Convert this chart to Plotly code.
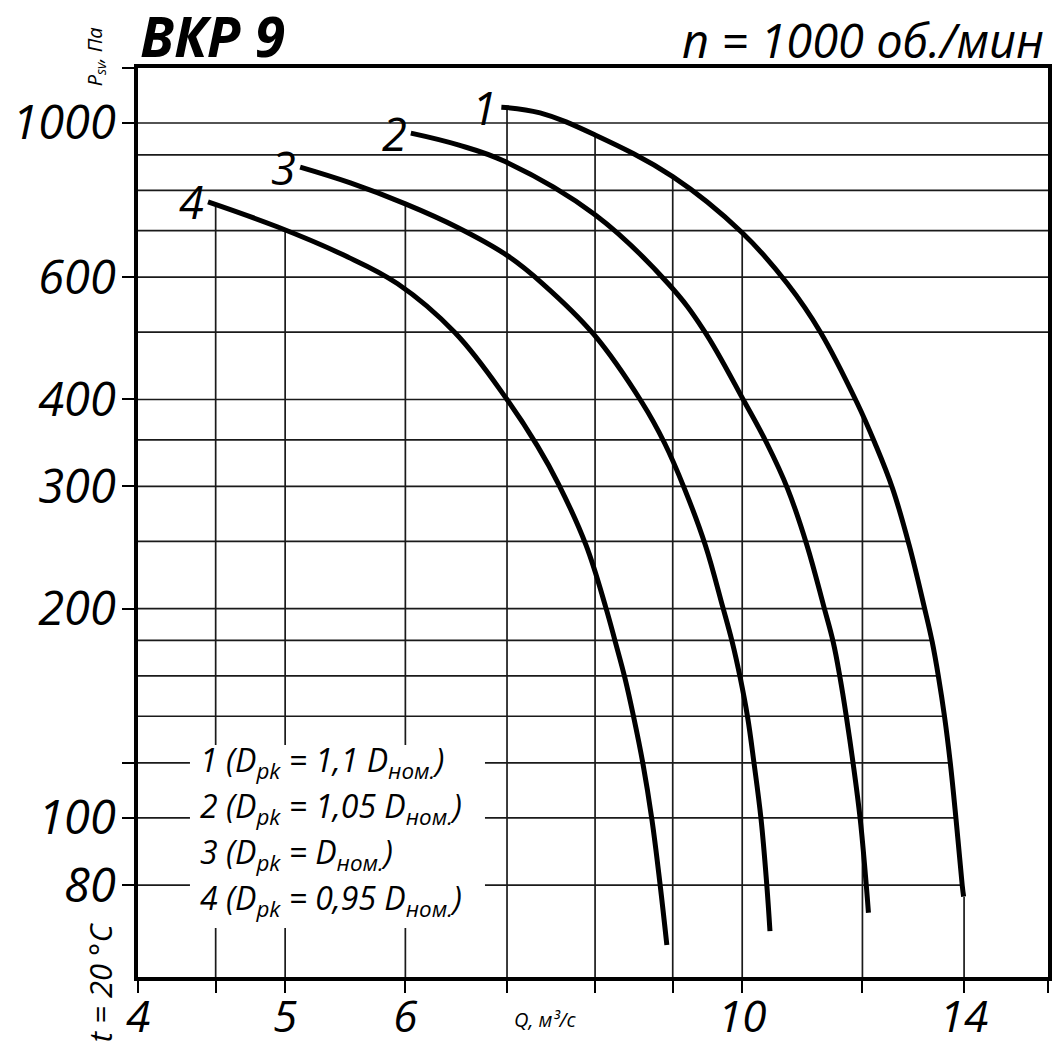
import numpy as np
import plotly.graph_objects as go

# ---- data (Q in m3/s, P in Pa) ----
Q1 = [6.94, 7.36, 8.0, 9.0, 10.0, 10.71, 11.26, 11.90, 12.23, 12.56, 12.88, 13.18, 13.34, 13.47, 13.59, 13.71, 13.83, 13.96, 13.99]
P1 = [1054, 1034, 961, 837, 695, 587, 500, 396, 346, 298, 247, 201, 179, 159, 140, 120, 99.5, 80, 77]

Q2 = [6.05, 6.50, 6.98, 8.0, 8.94, 9.43, 10.04, 10.38, 10.71, 11.03, 11.32, 11.48, 11.60, 11.71, 11.83, 11.96, 12.07, 12.11]
P2 = [967, 930, 880, 738, 587, 504, 396, 346, 298, 247, 201, 179, 159, 140, 120, 99.5, 80, 73]

Q3 = [5.115, 5.52, 6.0, 6.49, 7.0, 7.39, 7.98, 8.59, 8.89, 9.16, 9.455, 9.71, 9.85, 9.97, 10.08, 10.18, 10.29, 10.38, 10.43]
P3 = [864, 820, 765, 708, 645, 587, 497, 396, 346, 298, 247, 201, 179, 159, 140, 120, 99.5, 80, 68.7]

Q4 = [4.448, 4.94, 5.46, 5.93, 6.47, 7.0, 7.33, 7.57, 7.89, 8.13, 8.25, 8.37, 8.48, 8.60, 8.72, 8.83, 8.92]
P4 = [770, 709, 646, 587, 499, 400, 343, 302, 247, 201, 179, 159, 140, 120, 99.5, 80, 65.6]

CURVE_LABELS = ["1", "2", "3", "4"]
LEGEND_LINES = [
    "1 (D<sub>pk</sub> = 1,1 D<sub>ном.</sub>)",
    "2 (D<sub>pk</sub> = 1,05 D<sub>ном.</sub>)",
    "3 (D<sub>pk</sub> = D<sub>ном.</sub>)",
    "4 (D<sub>pk</sub> = 0,95 D<sub>ном.</sub>)",
]

X_MIN, X_MAX = 4, 15.9
Y_MIN, Y_MAX = 59, 1200
GRID_Q = [4.5, 5, 6, 7, 8, 9, 10, 12, 14]
GRID_P = [80, 100, 120, 140, 160, 180, 200, 250, 300, 350, 400, 500, 600, 700, 800, 900, 1000]
FULL_WIDTH_FROM = 500

X_TICKS = [4, 4.5, 5, 6, 7, 8, 9, 10, 12, 14, X_MAX]
X_TICKTEXT = ["4", "", "5", "6", "", "", "", "10", "", "14", ""]
Y_TICKS = [80, 100, 120, 200, 300, 400, 600, 1000, Y_MAX]
Y_TICKTEXT = ["80", "100", "", "200", "300", "400", "600", "1000", ""]

FONT = "Open Sans"
curves = [(Q1, P1), (Q2, P2), (Q3, P3), (Q4, P4)]


def envelope(q):
    best = Y_MIN
    for qs, ps in curves:
        if qs[0] <= q <= qs[-1] + 0.02:
            p = 10 ** np.interp(np.log10(q), np.log10(qs), np.log10(ps))
            best = max(best, p)
    return best


def q_on_outer(p):
    return 10 ** np.interp(np.log10(p), np.log10(P1[::-1]), np.log10(Q1[::-1]))


gx, gy = [], []
for q in GRID_Q:
    gx += [q, q, None]
    gy += [Y_MIN, envelope(q), None]
for p in GRID_P:
    xe = X_MAX if p >= FULL_WIDTH_FROM else q_on_outer(p)
    gx += [X_MIN, xe, None]
    gy += [p, p, None]

fig = go.Figure()
fig.add_trace(go.Scatter(x=gx, y=gy, mode="lines", line=dict(color="#1a1a1a", width=1.7),
                         hoverinfo="skip", showlegend=False))
for qs, ps in curves:
    fig.add_trace(go.Scatter(x=qs, y=ps, mode="lines",
                             line=dict(color="black", width=5, shape="spline", smoothing=1.1),
                             showlegend=False))

ann = []
for (qs, ps), lab in zip(curves, CURVE_LABELS):
    ann.append(dict(x=np.log10(qs[0]), y=np.log10(ps[0]), xref="x", yref="y", text=lab,
                    showarrow=False, xanchor="right", yanchor="middle", xshift=-2, yshift=0,
                    font=dict(family=FONT, size=45, color="black", style="italic")))

# legend block: white box + four text lines
LEG_X0, LEG_X1, LEG_Y0, LEG_Y1 = 0.0571, 0.3813, 0.0539, 0.2552
for i, line in enumerate(LEGEND_LINES):
    ann.append(dict(x=0.066, y=0.2367 - i * 0.0506, xref="paper", yref="paper", text=line,
                    showarrow=False, xanchor="left", yanchor="middle", align="left",
                    font=dict(family=FONT, size=32, color="black", style="italic")))

ann.append(dict(x=0.0, y=1.036, xref="paper", yref="paper", text="ВКР 9", showarrow=False,
                xanchor="left", yanchor="middle",
                font=dict(family=FONT, size=55, color="black", style="italic", weight="bold")))
ann.append(dict(x=0.9978, y=1.031, xref="paper", yref="paper", text="n = 1000 об./мин",
                showarrow=False, xanchor="right", yanchor="middle",
                font=dict(family=FONT, size=47, color="black", style="italic")))
ann.append(dict(x=-0.047, y=1.012, xref="paper", yref="paper", text="P<sub>sv</sub>, Па",
                showarrow=False, textangle=-90, xanchor="center", yanchor="middle",
                font=dict(family=FONT, size=20, color="black", style="italic")))
ann.append(dict(x=-0.041, y=-0.006, xref="paper", yref="paper", text="t = 20 °C",
                showarrow=False, textangle=-90, xanchor="center", yanchor="middle",
                font=dict(family=FONT, size=31, color="black", style="italic")))
ann.append(dict(x=0.447, y=-0.047, xref="paper", yref="paper", text="Q, м³/с",
                showarrow=False, xanchor="center", yanchor="middle",
                font=dict(family=FONT, size=20, color="black", style="italic")))

axis_common = dict(type="log", showgrid=False, zeroline=False, showline=True, linewidth=3.5,
                   linecolor="black", mirror=True, ticks="outside", ticklen=12, tickwidth=2,
                   tickcolor="black", automargin=False)

fig.update_xaxes(range=[np.log10(X_MIN), np.log10(X_MAX)], tickvals=X_TICKS,
                 ticktext=X_TICKTEXT, ticklabelstandoff=-14,
                 tickfont=dict(family=FONT, size=44, color="black", style="italic"),
                 **axis_common)
fig.update_yaxes(range=[np.log10(Y_MIN), np.log10(Y_MAX)], tickvals=Y_TICKS,
                 ticktext=Y_TICKTEXT, ticklabelstandoff=-3,
                 tickfont=dict(family=FONT, size=47, color="black", style="italic"),
                 **axis_common)

fig.update_layout(width=1054, height=1044, margin=dict(l=138, r=6, t=68, b=67),
                  plot_bgcolor="white", paper_bgcolor="white", showlegend=False,
                  annotations=ann,
                  shapes=[dict(type="rect", xref="paper", yref="paper", x0=LEG_X0, x1=LEG_X1,
                               y0=LEG_Y0, y1=LEG_Y1, fillcolor="white", line=dict(width=0),
                               layer="above")])

fig.write_html("out.html", config={"displayModeBar": False},
               post_script="document.body.style.margin='0px';document.body.style.overflow='hidden';")
